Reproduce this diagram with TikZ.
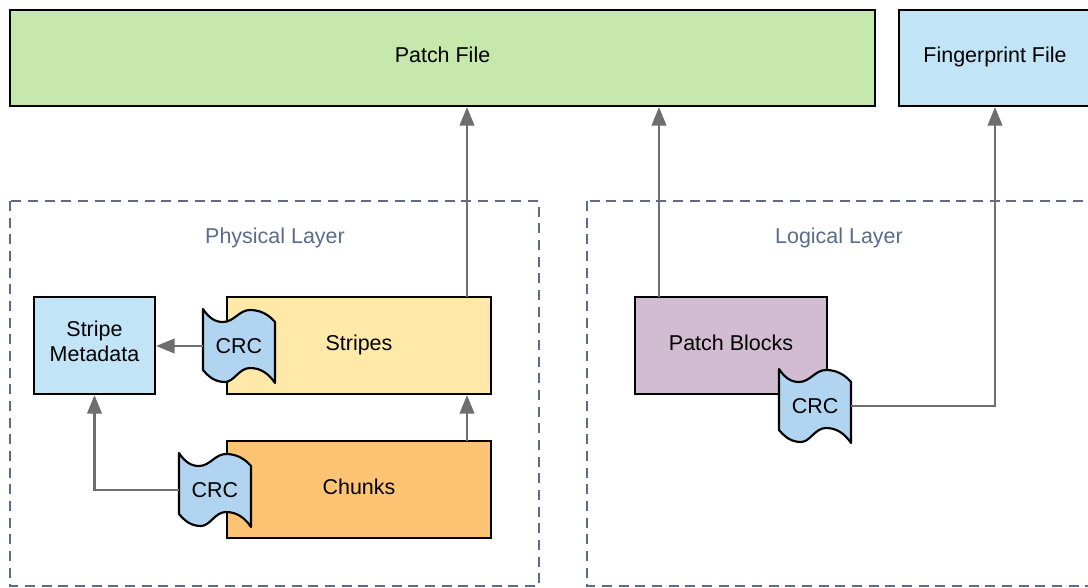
\documentclass[tikz,border=0pt]{standalone}
\usepackage{fontspec}
\setmainfont{Liberation Sans}
\usetikzlibrary{arrows.meta}
\definecolor{patchgreen}{HTML}{C7E8AC}
\definecolor{fileblue}{HTML}{C1E4F7}
\definecolor{stripeyellow}{HTML}{FFE9A8}
\definecolor{chunkorange}{HTML}{FFC374}
\definecolor{blockpurple}{HTML}{D1BCD2}
\definecolor{crcblue}{HTML}{B1D5F0}
\definecolor{layerline}{HTML}{5A6B8C}
\definecolor{flowgray}{HTML}{6E6E6E}
\newcommand{\px}{0.75pt}
\tikzset{
  box/.style={draw=black,line width=1.6pt,inner sep=0pt,align=center,
    font=\fontsize{16.1}{18.6}\selectfont},
  oneline/.style={text height=11pt,text depth=4pt},
  twolines/.style={text height=28pt,text depth=4pt},
  layer/.style={draw=layerline,line width=1.4pt,dash pattern=on 7.5pt off 5pt},
  layertext/.style={text=layerline,inner sep=0pt,font=\fontsize{16.1}{18.6}\selectfont},
  crcwave/.style={draw=black,line width=1.6pt,fill=crcblue,line join=round},
  crctext/.style={inner sep=0pt,minimum width=72*\px,minimum height=60*\px,
    font=\fontsize{16.1}{18.6}\selectfont},
  flow/.style={draw=flowgray,line width=1.6pt,-{Triangle[width=11pt,length=14pt]}}
}
% tape with its label: name, x, y
\newcommand{\crctape}[3]{
	\draw[crcwave,shift={(#2,#3)}] (-36,-37) .. controls (-30,-28) and (-24,-24) .. (-16,-24)
		.. controls (-5,-24) and (0,-36) .. (11,-36) .. controls (22,-36) and (30,-31) .. (36,-24)
		-- (36,37) .. controls (30,28) and (22,22) .. (11,22) .. controls (0,22) and (-5,36) .. (-14,36)
		.. controls (-24,36) and (-30,31) .. (-36,24) -- cycle;
	\node[crctext] (#1) at (#2,#3) {CRC};
}
\begin{document}
\begin{tikzpicture}[x=\px,y=-\px]
	\useasboundingbox (0,0) rectangle (1088,588);
	\clip (0,0) rectangle (1088,588);

	% layers
	\draw[layer] (10,201) rectangle (539,586);
	\draw[layer] (587,201) rectangle (1100,586);
	\node[layertext] (physical) at (275,238) {Physical Layer};
	\node[layertext] (logical) at (839,238) {Logical Layer};

	% files
	\node[box,oneline,fill=patchgreen,minimum width=865*\px,minimum height=96*\px] (patch) at (442.5,58) {Patch File};
	\node[box,oneline,fill=fileblue,minimum width=192*\px,minimum height=96*\px] (finger) at (995,58) {Fingerprint File};

	% boxes
	\node[box,twolines,fill=fileblue,minimum width=121*\px,minimum height=97*\px] (meta) at (94.5,345.5) {Stripe\\Metadata};
	\node[box,oneline,fill=stripeyellow,minimum width=264*\px,minimum height=97*\px] (stripes) at (359,345.5) {Stripes};
	\node[box,oneline,fill=chunkorange,minimum width=264*\px,minimum height=97*\px] (chunks) at (359,489.5) {Chunks};
	\node[box,oneline,fill=blockpurple,minimum width=192*\px,minimum height=97*\px] (blocks) at (731,345.5) {Patch Blocks};

	\crctape{crcstripes}{239}{346}
	\crctape{crcchunks}{215}{490}
	\crctape{crcblocks}{815}{406}

	% outlets on the long edges
	\coordinate (stripesout) at (467,297);
	\coordinate (chunksout) at (467,441);
	\coordinate (blocksout) at (659,297);

	\draw[flow] (stripesout) -- (stripesout |- patch.south);
	\draw[flow] (blocksout) -- (blocksout |- patch.south);
	\draw[flow] (chunksout) -- (chunksout |- stripes.south);
	\draw[flow] (crcstripes.west) -- (crcstripes.west -| meta.east);
	\draw[flow] (crcchunks.west) -| (meta.south);
	\draw[flow] (crcblocks.east) -| (finger.south);
\end{tikzpicture}
\end{document}
